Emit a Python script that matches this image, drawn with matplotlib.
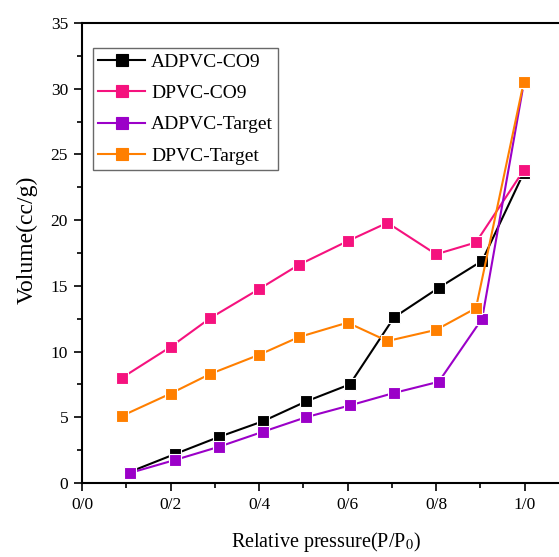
import matplotlib
matplotlib.use("Agg")
import matplotlib.pyplot as plt
from matplotlib.ticker import FixedLocator, FixedFormatter, MultipleLocator

plt.rcParams['font.family'] = ['Liberation Serif', 'DejaVu Serif']
plt.rcParams['mathtext.fontset'] = 'stix'

# relative pressure for each series
x_co9 = [0.09, 0.20, 0.29, 0.40, 0.49, 0.60, 0.69, 0.80, 0.89, 0.998]
x_ad = [0.108, 0.21, 0.309, 0.409, 0.506, 0.605, 0.705, 0.806, 0.904, 0.998]

adpvc_co9 = [0.84, 2.2, 3.5, 4.7, 6.2, 7.5, 12.6, 14.85, 16.9, 23.6]
dpvc_co9 = [8.0, 10.35, 12.55, 14.75, 16.6, 18.4, 19.8, 17.4, 18.3, 23.8]
adpvc_target = [0.76, 1.75, 2.75, 3.9, 5.0, 5.9, 6.85, 7.7, 12.5, 30.4]
dpvc_target = [5.1, 6.8, 8.3, 9.75, 11.1, 12.2, 10.8, 11.65, 13.3, 30.5]

xtick_vals = [0.0, 0.2, 0.4, 0.6, 0.8, 1.0]
xtick_labels = ['0/0', '0/2', '0/4', '0/6', '0/8', '1/0']

fig = plt.figure(figsize=(5.59, 5.57), dpi=100)
ax = fig.add_axes([0.1467, 0.1329, 0.871, 0.8259])

style = dict(marker='s', markersize=8, linewidth=1.5, markeredgewidth=0.8,
             markeredgecolor='white')
ax.plot(x_ad, adpvc_co9, color='black', label='ADPVC-CO9', zorder=3, **style)
ax.plot(x_co9, dpvc_co9, color='#f5127e', label='DPVC-CO9', zorder=3, **style)
ax.plot(x_ad, adpvc_target, color='#9b00c8', label='ADPVC-Target', zorder=3, **style)
ax.plot(x_co9, dpvc_target, color='#ff7f00', label='DPVC-Target', zorder=4, **style)

ax.set_xlim(0, 1.1)
ax.set_ylim(0, 35)
ax.xaxis.set_major_locator(FixedLocator(xtick_vals))
ax.xaxis.set_major_formatter(FixedFormatter(xtick_labels))
ax.xaxis.set_minor_locator(MultipleLocator(0.1))
ax.yaxis.set_major_locator(MultipleLocator(5))
ax.yaxis.set_minor_locator(MultipleLocator(2.5))
ax.tick_params(which='major', direction='out', length=6, width=1.2, labelsize=12.5, pad=4)
ax.tick_params(which='minor', direction='out', length=3.5, width=1.2)
for s in ax.spines.values():
    s.set_linewidth(1.5)

ax.set_xlabel(r'Relative pressure(P/P$_0$)', fontsize=14.5, labelpad=12)
ax.set_ylabel('Volume(cc/g)', fontsize=17)
ax.yaxis.set_label_coords(-0.09, 0.528)

leg = ax.legend(loc='upper left', bbox_to_anchor=(0.0226, 0.9457), fontsize=14,
                frameon=True, fancybox=False, edgecolor='#444444',
                handlelength=2.4, handletextpad=0.3, labelspacing=0.7,
                borderpad=0.28, borderaxespad=0)
leg.get_frame().set_linewidth(1.0)
for h in leg.legend_handles:
    h.set_markeredgecolor(h.get_color())

fig.savefig('out.png', dpi=100)
